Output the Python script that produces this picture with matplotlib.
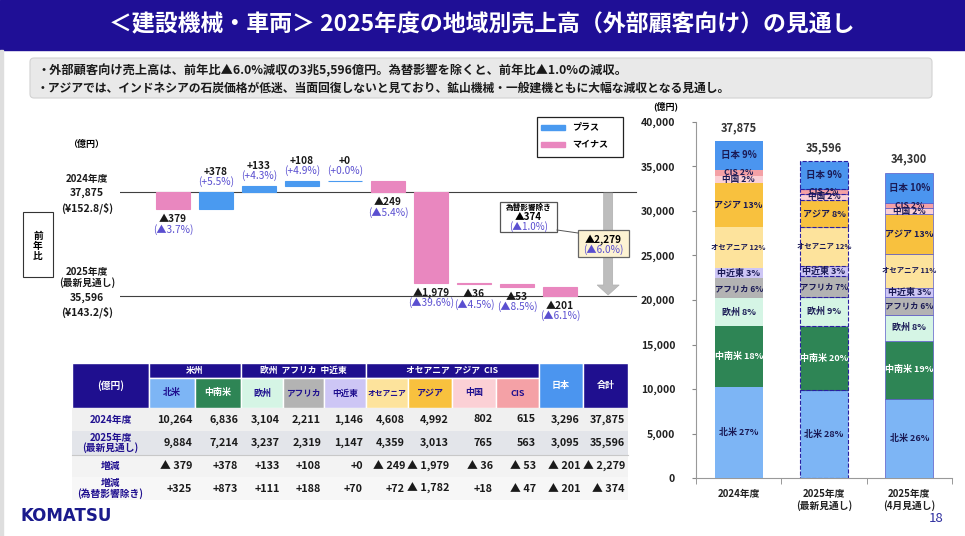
import matplotlib.pyplot as plt
from matplotlib.patches import Rectangle, FancyBboxPatch, Polygon

plt.rcParams['font.family'] = ['Noto Sans CJK JP', 'DejaVu Sans']

# ---- data ----
regions = ['北米', '中南米', '欧州', 'アフリカ', '中近東', 'オセアニア', 'アジア', '中国', 'CIS', '日本']
fy24 = [10264, 6836, 3104, 2211, 1146, 4608, 4992, 802, 615, 3296]
fy25 = [9884, 7214, 3237, 2319, 1147, 4359, 3013, 765, 563, 3095]
diff = [-379, 378, 133, 108, 0, -249, -1979, -36, -53, -201]
diff_pct = ['▲3.7%', '+5.5%', '+4.3%', '+4.9%', '+0.0%', '▲5.4%', '▲39.6%', '▲4.5%', '▲8.5%', '▲6.1%']
diff_exfx = [325, 873, 111, 188, 70, 72, -1782, 18, -47, -201]
total24 = 37875
total25 = 35596
total_diff = -2279
total_diff_exfx = -374
fy25_apr = [8900, 6550, 2850, 2050, 1050, 3800, 4400, 680, 620, 3400]
total_apr = 34300
bar_labels = ['2024年度', '2025年度\n(最新見通し)', '2025年度\n(4月見通し)']

NAVY = '#1f0f8f'
DARK = '#1a1a1a'
PCT = '#5a4fd0'
PLUS = '#4a9af0'
MINUS = '#e987bf'
reg_colors = ['#7db5f5', '#2e8555', '#d5f5e5', '#b3b3b3', '#cdc6f5',
              '#fde39c', '#f8c13e', '#fbd0d5', '#f4a1a6', '#4b95ef']

W, H = 965, 536
fig = plt.figure(figsize=(W / 100, H / 100), dpi=100)


def px_axes(x0, y0, x1, y1):
    a = fig.add_axes([x0 / W, 1 - y1 / H, (x1 - x0) / W, (y1 - y0) / H])
    a.patch.set_alpha(0)
    return a


def canvas():
    a = px_axes(0, 0, W, H)
    a.set_xlim(0, W)
    a.set_ylim(H, 0)
    a.axis('off')
    return a


def fmt(v):
    return f'+{v:,}' if v >= 0 else f'▲ {-v:,}'


# slide canvas in pixel coordinates
ax0 = canvas()

# title bar
ax0.add_patch(Rectangle((0, 0), W, 50, color='#1f0f96'))
ax0.add_patch(Rectangle((0, 50), 3, H - 50, color='#dedede'))
ax0.text(482, 25, '＜建設機械・車両＞ 2025年度の地域別売上高（外部顧客向け）の見通し',
         color='white', fontsize=16.5, fontweight='bold', ha='center', va='center')

# summary box
ax0.add_patch(FancyBboxPatch((30, 58), 902, 40, boxstyle='round,pad=0,rounding_size=4',
                             facecolor='#e9e9e9', edgecolor='#d2d2d2', lw=0.8))
ax0.text(37, 71, '・外部顧客向け売上高は、前年比▲6.0%減収の3兆5,596億円。為替影響を除くと、前年比▲1.0%の減収。',
         fontsize=8.8, fontweight='bold', color=DARK, va='center')
ax0.text(37, 88, '・アジアでは、インドネシアの石炭価格が低迷、当面回復しないと見ており、鉱山機械・一般建機ともに大幅な減収となる見通し。',
         fontsize=8.5, fontweight='bold', color=DARK, va='center')

# ---- waterfall ----
ax0.text(86, 144, '（億円）', fontsize=6.5, fontweight='bold', ha='center', va='center')
for y, s in [(179, '2024年度'), (193, f'{total24:,}'), (208, '(¥152.8/$)'),
             (272, '2025年度'), (283, '(最新見通し)'), (298, f'{total25:,}'), (312, '(¥143.2/$)')]:
    ax0.text(87, y, s, fontsize=7.5 if ',' in s or '¥' in s else 7, fontweight='bold',
             ha='center', va='center', color=DARK)
ax0.add_patch(Rectangle((23, 212), 30, 65, facecolor='white', edgecolor='#333333', lw=0.8))
for y, s in [(236, '前'), (246, '年'), (256, '比')]:
    ax0.text(38, y, s, fontsize=7, fontweight='bold', ha='center', va='center')

wf = px_axes(120, 115, 640, 340)
ppu = (296 - 192) / (total24 - total25)
wf.set_ylim(total25 - (340 - 296) / ppu, total24 + (192 - 115) / ppu)
wf.set_xlim(-(173 - 120) / 43, (640 - 173) / 43)
wf.axis('off')
xl = wf.get_xlim()
wf.plot([xl[0], 10.77], [total24, total24], color='#404040', lw=0.8)
wf.plot([xl[0], 10.77], [total25, total25], color='#404040', lw=0.8)

run = total24
for i, (d, p) in enumerate(zip(diff, diff_pct)):
    col = PLUS if d >= 0 else MINUS
    wf.bar(i, d, bottom=run, width=0.79, color=col, edgecolor=col, lw=0.8, zorder=3)
    top, bot = max(run, run + d), min(run, run + d)
    lab = f'+{d:,}' if d >= 0 else f'▲{-d:,}'
    if d >= 0:
        wf.annotate(lab, (i, top), xytext=(0, 14.5), textcoords='offset points',
                    ha='center', va='center', fontsize=7.3, fontweight='bold', color=DARK)
        wf.annotate(f'({p})', (i, top), xytext=(0, 7.3), textcoords='offset points',
                    ha='center', va='center', fontsize=7.3, color=PCT)
    else:
        wf.annotate(lab, (i, bot), xytext=(0, -7), textcoords='offset points',
                    ha='center', va='center', fontsize=7.3, fontweight='bold', color=DARK)
        wf.annotate(f'({p})', (i, bot), xytext=(0, -14.3), textcoords='offset points',
                    ha='center', va='center', fontsize=7.3, color=PCT)
    run += d

# total change arrow
ax_x = 10.12
sw, hw = 4.5 / 43, 11 / 43
y_top = total24 - 1 / ppu
y_head = total25 + 11 / ppu
y_tip = total25 + 1 / ppu
wf.add_patch(Polygon([(ax_x - sw, y_top), (ax_x + sw, y_top), (ax_x + sw, y_head),
                      (ax_x + hw, y_head), (ax_x, y_tip), (ax_x - hw, y_head),
                      (ax_x - sw, y_head)], closed=True, facecolor='#bdbdbd',
                     edgecolor='#b0b0b0', lw=0.5, zorder=2))

# overlay for boxes drawn over the waterfall
ax1 = canvas()

# legend
ax1.add_patch(Rectangle((537, 117), 86, 40, facecolor='white', edgecolor='#222222', lw=0.9))
ax1.add_patch(Rectangle((541, 124.5), 24, 5, color=PLUS))
ax1.add_patch(Rectangle((541, 142), 24, 5, color=MINUS))
ax1.text(572, 127, 'プラス', fontsize=6.5, fontweight='bold', va='center')
ax1.text(572, 145, 'マイナス', fontsize=6.5, fontweight='bold', va='center')

# annotation boxes
ax1.plot([557, 578], [230, 233], color='#555555', lw=0.7)
ax1.add_patch(Rectangle((500, 202), 57, 30, facecolor='white', edgecolor='#555555', lw=0.9))
ax1.text(528.5, 207.5, '為替影響除き', fontsize=5.5, fontweight='bold', ha='center', va='center')
ax1.text(528.5, 217, f'▲{-total_diff_exfx:,}', fontsize=7, fontweight='bold', ha='center', va='center')
ax1.text(528.5, 227, f'(▲{-total_diff_exfx / total24 * 100:.1f}%)', fontsize=7, color=PCT,
         ha='center', va='center')
ax1.add_patch(Rectangle((578, 230), 51, 27, facecolor='#fdf3d3', edgecolor='#666666', lw=0.9))
ax1.text(603.5, 240, f'▲{-total_diff:,}', fontsize=7.3, fontweight='bold', ha='center', va='center')
ax1.text(603.5, 249.5, f'(▲{-total_diff / total24 * 100:.1f}%)', fontsize=7.3, color=PCT,
         ha='center', va='center')

# ---- table ----
col_x = [72, 149, 195, 241, 283, 324, 366, 408, 452, 496, 539, 583, 628]
row_y = [363, 378, 408, 431, 455, 477, 500]
hdr_txt = ['#1f0f8f', 'white', '#1f0f8f', '#1f0f8f', '#1f0f8f', '#1f0f8f',
           '#1f0f8f', '#1f0f8f', '#1f0f8f', 'white']
hdr_fs = [6.5, 6.5, 6.5, 6.2, 6.2, 5.6, 6.5, 6.5, 6.5]
# header
ax1.add_patch(Rectangle((col_x[0], row_y[0]), col_x[1] - col_x[0], row_y[2] - row_y[0],
                        facecolor=NAVY, edgecolor='white', lw=1))
ax1.text((col_x[0] + col_x[1]) / 2, (row_y[0] + row_y[2]) / 2, '(億円)', color='white',
         fontsize=7, fontweight='bold', ha='center', va='center')
groups = [('米州', 0, 2), ('欧州  アフリカ  中近東', 2, 5), ('オセアニア  アジア  CIS', 5, 9)]
for name, a, b in groups:
    ax1.add_patch(Rectangle((col_x[a + 1], row_y[0]), col_x[b + 1] - col_x[a + 1], row_y[1] - row_y[0],
                            facecolor=NAVY, edgecolor='white', lw=1))
    ax1.text((col_x[a + 1] + col_x[b + 1]) / 2, (row_y[0] + row_y[1]) / 2, name, color='white',
             fontsize=6.3, fontweight='bold', ha='center', va='center')
for j in range(9):
    x0, x1 = col_x[j + 1], col_x[j + 2]
    ax1.add_patch(Rectangle((x0, row_y[1]), x1 - x0, row_y[2] - row_y[1],
                            facecolor=reg_colors[j], edgecolor='white', lw=1))
    ax1.text((x0 + x1) / 2, (row_y[1] + row_y[2]) / 2, regions[j], color=hdr_txt[j],
             fontsize=hdr_fs[j], fontweight='bold', ha='center', va='center')
for j, (name, fc) in enumerate([('日本', reg_colors[9]), ('合計', NAVY)]):
    x0, x1 = col_x[10 + j], col_x[11 + j]
    ax1.add_patch(Rectangle((x0, row_y[0]), x1 - x0, row_y[2] - row_y[0],
                            facecolor=fc, edgecolor='white', lw=1))
    ax1.text((x0 + x1) / 2, (row_y[0] + row_y[2]) / 2, name, color='white',
             fontsize=6.5, fontweight='bold', ha='center', va='center')

rows = [('2024年度', [f'{v:,}' for v in fy24 + [total24]], '#f0f0f0'),
        ('2025年度\n(最新見通し)', [f'{v:,}' for v in fy25 + [total25]], '#e3e5ea'),
        ('増減', [fmt(v) for v in diff + [total_diff]], '#f3f3f3'),
        ('増減\n(為替影響除き)', [fmt(v) for v in diff_exfx + [total_diff_exfx]], '#f7f7f7')]
for r, (lab, vals, bg) in enumerate(rows):
    y0, y1 = row_y[r + 2], row_y[r + 3]
    ax1.add_patch(Rectangle((col_x[0], y0), col_x[-1] - col_x[0], y1 - y0, facecolor=bg,
                            edgecolor='none'))
    ax1.text((col_x[0] + col_x[1]) / 2, (y0 + y1) / 2, lab, color=NAVY, fontsize=7,
             fontweight='bold', ha='center', va='center', linespacing=1.0)
    for j, s in enumerate(vals):
        ax1.text(col_x[j + 2] - 3, (y0 + y1) / 2, s, color=DARK, fontsize=7.8,
                 fontweight='bold', ha='right', va='center')
ax1.plot([col_x[0], col_x[-1]], [row_y[4], row_y[4]], color='#c8c8c8', lw=0.8)

# ---- stacked bar chart ----
ax1.text(666, 106, '(億円)', fontsize=6.5, fontweight='bold', ha='center', va='center')
sc = px_axes(696, 121.7, 952, 478.3)
sc.set_ylim(0, 40000)
sc.set_xlim(-0.5, 2.5)
stacks = [fy24, fy25, fy25_apr]
totals = [total24, total25, total_apr]
fsz = [6.5, 6.5, 6.5, 6, 6.5, 5.3, 6.5, 6.2, 6.2, 6.8]
for k, (vals, tot) in enumerate(zip(stacks, totals)):
    bottom = 0
    for j, v in enumerate(vals):
        if k == 1:
            sc.bar(k, v, bottom=bottom, width=0.56, color=reg_colors[j], edgecolor='#2a1fa0',
                   lw=0.8, linestyle='--', zorder=3)
        elif k == 2:
            sc.bar(k, v, bottom=bottom, width=0.56, color=reg_colors[j], edgecolor='#5a5ac8',
                   lw=0.5, zorder=3)
        else:
            sc.bar(k, v, bottom=bottom, width=0.56, color=reg_colors[j], edgecolor='none', zorder=3)
        sc.text(k, bottom + v / 2, f'{regions[j]} {v / tot * 100:.0f}%', fontsize=fsz[j],
                fontweight='bold', ha='center', va='center', zorder=4,
                color='white' if j == 1 else '#1a1a55')
        bottom += v
    sc.annotate(f'{tot:,}', (k, bottom), xytext=(0, 9.5), textcoords='offset points',
                ha='center', va='center', fontsize=8, fontweight='bold', color='#333333')

sc.set_yticks(range(0, 40001, 5000))
sc.set_yticklabels([f'{v:,}' for v in range(0, 40001, 5000)], fontsize=7.5, fontweight='bold',
                   color='#222222')
sc.set_xticks([0, 1, 2])
sc.set_xticklabels(bar_labels, fontsize=7, fontweight='bold', color='#222222', linespacing=1.1)
sc.set_xticks([-0.5, 0.5, 1.5, 2.5], minor=True)
sc.tick_params(axis='x', which='major', length=0, pad=8)
sc.tick_params(axis='x', which='minor', length=4, color='#888888', direction='out')
sc.tick_params(axis='y', length=3, color='#888888', pad=12)
for s in ['top', 'right']:
    sc.spines[s].set_visible(False)
for s in ['left', 'bottom']:
    sc.spines[s].set_color('#999999')

# footer
ax1.text(20, 516, 'KOMATSU', fontsize=12, fontweight='heavy', color='#1a1a8c',
         family='DejaVu Sans', va='center')
ax1.text(936, 518, '18', fontsize=9.5, color='#3030a0', ha='center', va='center')

fig.savefig('out.png', dpi=100)
